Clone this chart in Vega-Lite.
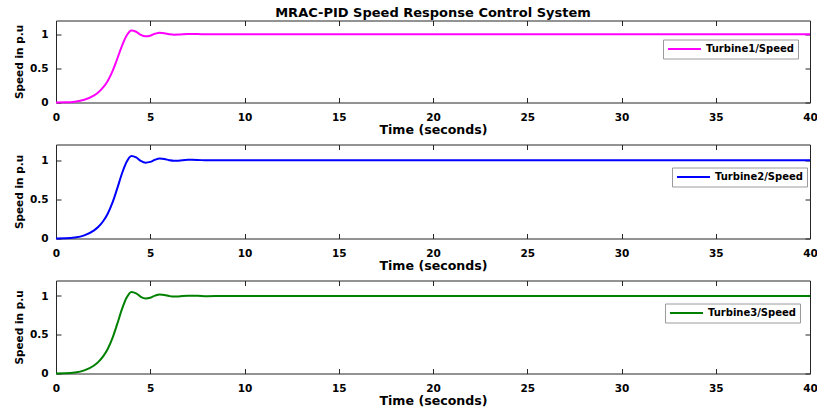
{
  "$schema": "https://vega.github.io/schema/vega-lite/v6.json",
  "background": "white",
  "padding": {"left": 14, "top": 6.5, "right": 4, "bottom": 4},
  "datasets": {
    "speed": [
      {"t": 0, "turbine1": 0, "turbine2": 0, "turbine3": 0},
      {"t": 0.5, "turbine1": 0.002, "turbine2": 0.002, "turbine3": 0.002},
      {"t": 1, "turbine1": 0.012, "turbine2": 0.012, "turbine3": 0.012},
      {"t": 1.5, "turbine1": 0.04, "turbine2": 0.04, "turbine3": 0.04},
      {"t": 2, "turbine1": 0.1, "turbine2": 0.1, "turbine3": 0.1},
      {"t": 2.25, "turbine1": 0.15, "turbine2": 0.15, "turbine3": 0.15},
      {"t": 2.5, "turbine1": 0.22, "turbine2": 0.22, "turbine3": 0.22},
      {"t": 2.75, "turbine1": 0.32, "turbine2": 0.32, "turbine3": 0.32},
      {"t": 3, "turbine1": 0.46, "turbine2": 0.46, "turbine3": 0.46},
      {"t": 3.25, "turbine1": 0.64, "turbine2": 0.64, "turbine3": 0.64},
      {"t": 3.5, "turbine1": 0.83, "turbine2": 0.83, "turbine3": 0.83},
      {"t": 3.75, "turbine1": 0.98, "turbine2": 0.98, "turbine3": 0.98},
      {"t": 4, "turbine1": 1.053, "turbine2": 1.053, "turbine3": 1.053},
      {"t": 4.25, "turbine1": 1.035, "turbine2": 1.035, "turbine3": 1.035},
      {"t": 4.5, "turbine1": 0.99, "turbine2": 0.99, "turbine3": 0.99},
      {"t": 4.75, "turbine1": 0.968, "turbine2": 0.968, "turbine3": 0.968},
      {"t": 5, "turbine1": 0.978, "turbine2": 0.978, "turbine3": 0.978},
      {"t": 5.25, "turbine1": 1.005, "turbine2": 1.005, "turbine3": 1.005},
      {"t": 5.5, "turbine1": 1.02, "turbine2": 1.02, "turbine3": 1.02},
      {"t": 5.75, "turbine1": 1.014, "turbine2": 1.014, "turbine3": 1.014},
      {"t": 6, "turbine1": 1.0, "turbine2": 1.0, "turbine3": 1.0},
      {"t": 6.25, "turbine1": 0.992, "turbine2": 0.992, "turbine3": 0.992},
      {"t": 6.5, "turbine1": 0.994, "turbine2": 0.994, "turbine3": 0.994},
      {"t": 7, "turbine1": 1.004, "turbine2": 1.004, "turbine3": 1.004},
      {"t": 7.5, "turbine1": 1.003, "turbine2": 1.003, "turbine3": 1.003},
      {"t": 8, "turbine1": 0.998, "turbine2": 0.998, "turbine3": 0.998},
      {"t": 9, "turbine1": 1.0, "turbine2": 1.0, "turbine3": 1.0},
      {"t": 10, "turbine1": 1.0, "turbine2": 1.0, "turbine3": 1.0},
      {"t": 15, "turbine1": 1.0, "turbine2": 1.0, "turbine3": 1.0},
      {"t": 20, "turbine1": 1.0, "turbine2": 1.0, "turbine3": 1.0},
      {"t": 25, "turbine1": 1.0, "turbine2": 1.0, "turbine3": 1.0},
      {"t": 30, "turbine1": 1.0, "turbine2": 1.0, "turbine3": 1.0},
      {"t": 35, "turbine1": 1.0, "turbine2": 1.0, "turbine3": 1.0},
      {"t": 40, "turbine1": 1.0, "turbine2": 1.0, "turbine3": 1.0}
    ]
  },
  "spacing": 42,
  "bounds": "flush",
  "resolve": {"scale": {"color": "independent"}},
  "vconcat": [
    {
      "width": 754,
      "height": 82,
      "title": {
        "text": "MRAC-PID Speed Response Control System",
        "anchor": "middle",
        "frame": "group",
        "baseline": "alphabetic",
        "offset": -9.5,
        "font": "DejaVu Sans",
        "fontSize": 13,
        "fontWeight": "bold",
        "color": "black"
      },
      "data": {"name": "speed"},
      "layer": [
        {
          "mark": {"type": "line", "strokeWidth": 2, "interpolate": "monotone"},
          "encoding": {
            "x": {"field": "t", "type": "quantitative", "scale": {"domain": [0, 40], "nice": false},
                  "axis": {"title": "Time (seconds)", "values": [0, 5, 10, 15, 20, 25, 30, 35, 40]}},
            "y": {"field": "turbine1", "type": "quantitative", "scale": {"domain": [0, 1.2], "nice": false},
                  "axis": {"title": "Speed in p.u", "values": [0, 0.5, 1], "format": "~g"}},
            "color": {"datum": "Turbine1/Speed", "scale": {"range": ["#ff00ff"]},
                      "legend": {"orient": "none", "legendX": 607, "legendY": 19}}
          }
        },
        {
          "mark": {"type": "line", "opacity": 0},
          "encoding": {
            "x": {"field": "t", "type": "quantitative",
                  "axis": {"orient": "top", "labels": false, "title": null, "values": [0, 5, 10, 15, 20, 25, 30, 35, 40]}},
            "y": {"field": "turbine1", "type": "quantitative",
                  "axis": {"orient": "right", "labels": false, "title": null, "values": [0, 0.5, 1]}}
          }
        }
      ],
      "resolve": {"axis": {"x": "independent", "y": "independent"}}
    },
    {
      "width": 754,
      "height": 94,
      "data": {"name": "speed"},
      "layer": [
        {
          "mark": {"type": "line", "strokeWidth": 2, "interpolate": "monotone"},
          "encoding": {
            "x": {"field": "t", "type": "quantitative", "scale": {"domain": [0, 40], "nice": false},
                  "axis": {"title": "Time (seconds)", "values": [0, 5, 10, 15, 20, 25, 30, 35, 40]}},
            "y": {"field": "turbine2", "type": "quantitative", "scale": {"domain": [0, 1.2], "nice": false},
                  "axis": {"title": "Speed in p.u", "values": [0, 0.5, 1], "format": "~g"}},
            "color": {"datum": "Turbine2/Speed", "scale": {"range": ["#0000ff"]},
                      "legend": {"orient": "none", "legendX": 616, "legendY": 23}}
          }
        },
        {
          "mark": {"type": "line", "opacity": 0},
          "encoding": {
            "x": {"field": "t", "type": "quantitative",
                  "axis": {"orient": "top", "labels": false, "title": null, "values": [0, 5, 10, 15, 20, 25, 30, 35, 40]}},
            "y": {"field": "turbine2", "type": "quantitative",
                  "axis": {"orient": "right", "labels": false, "title": null, "values": [0, 0.5, 1]}}
          }
        }
      ],
      "resolve": {"axis": {"x": "independent", "y": "independent"}}
    },
    {
      "width": 754,
      "height": 93,
      "data": {"name": "speed"},
      "layer": [
        {
          "mark": {"type": "line", "strokeWidth": 2, "interpolate": "monotone"},
          "encoding": {
            "x": {"field": "t", "type": "quantitative", "scale": {"domain": [0, 40], "nice": false},
                  "axis": {"title": "Time (seconds)", "values": [0, 5, 10, 15, 20, 25, 30, 35, 40]}},
            "y": {"field": "turbine3", "type": "quantitative", "scale": {"domain": [0, 1.2], "nice": false},
                  "axis": {"title": "Speed in p.u", "values": [0, 0.5, 1], "format": "~g"}},
            "color": {"datum": "Turbine3/Speed", "scale": {"range": ["#008000"]},
                      "legend": {"orient": "none", "legendX": 609, "legendY": 23}}
          }
        },
        {
          "mark": {"type": "line", "opacity": 0},
          "encoding": {
            "x": {"field": "t", "type": "quantitative",
                  "axis": {"orient": "top", "labels": false, "title": null, "values": [0, 5, 10, 15, 20, 25, 30, 35, 40]}},
            "y": {"field": "turbine3", "type": "quantitative",
                  "axis": {"orient": "right", "labels": false, "title": null, "values": [0, 0.5, 1]}}
          }
        }
      ],
      "resolve": {"axis": {"x": "independent", "y": "independent"}}
    }
  ],
  "config": {
    "font": "DejaVu Sans",
    "view": {"stroke": null},
    "axis": {
      "grid": false,
      "domainColor": "#262626",
      "domainWidth": 1,
      "tickColor": "#262626",
      "tickSize": -5,
      "labelFont": "DejaVu Sans",
      "labelFontSize": 10.5,
      "labelFontWeight": "bold",
      "labelColor": "black",
      "labelPadding": 14.75,
      "labelFlush": false,
      "labelOverlap": false,
      "titleFont": "DejaVu Sans",
      "titleFontWeight": "bold",
      "titleColor": "black"
    },
    "axisX": {"titleFontSize": 12.6, "titlePadding": 1},
    "axisY": {"titleFontSize": 10.5, "titlePadding": 5, "labelPadding": 13},
    "legend": {
      "title": null,
      "symbolType": "M-1,0H6.33",
      "symbolSize": 81,
      "symbolStrokeWidth": 2,
      "labelFont": "DejaVu Sans",
      "labelFontSize": 10,
      "labelFontWeight": "bold",
      "labelColor": "black",
      "labelOffset": 28,
      "padding": 4,
      "strokeColor": "#9a9a9a",
      "fillColor": "white",
      "cornerRadius": 0
    }
  }
}
